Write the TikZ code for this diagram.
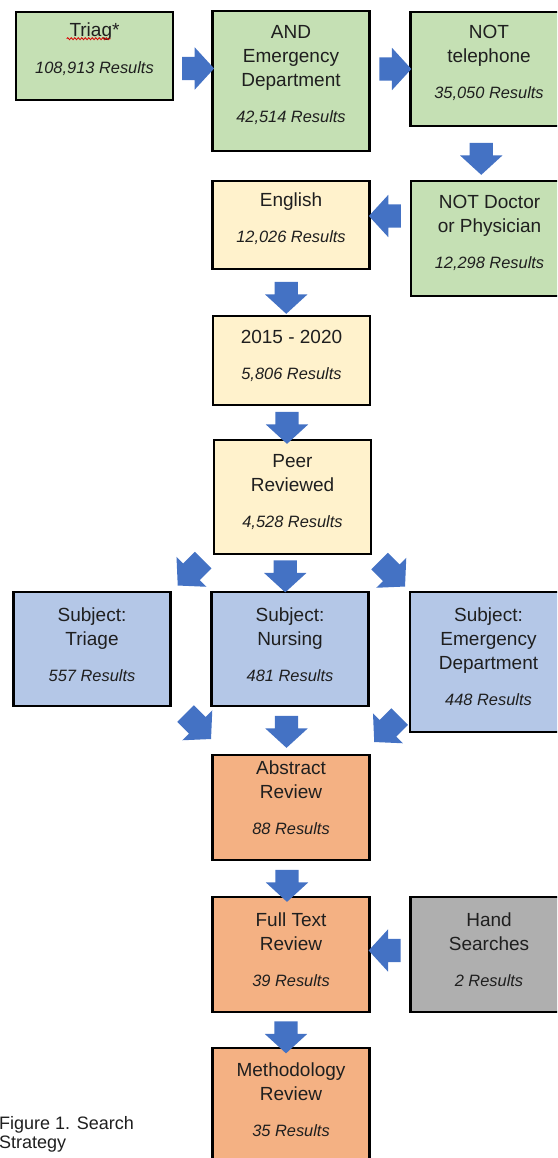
\documentclass[tikz,border=0pt]{standalone}
\usepackage{fontspec}
\setmainfont{Liberation Sans}
\newfontfamily\capfont{Liberation Sans}
\usetikzlibrary{shapes.arrows,calc,decorations.pathmorphing}

\definecolor{boxgreen}{HTML}{C5E0B4}
\definecolor{boxyellow}{HTML}{FFF2CC}
\definecolor{boxblue}{HTML}{B4C7E7}
\definecolor{boxorange}{HTML}{F4B183}
\definecolor{boxgrey}{HTML}{AFAFAF}
\definecolor{arrowblue}{HTML}{4472C4}

% result count line under each box title
\newcommand{\res}[1]{{\fontsize{16.4}{20}\selectfont\itshape #1 Results}}

\begin{document}
\begin{tikzpicture}[x=1pt, y=-1pt,
        box/.style={draw=black, line width=2.6pt, minimum width=157pt, inner sep=0pt},
        txt/.style={align=center, inner sep=0pt, text=black!88, font=\fontsize{19}{24}\selectfont},
        barrow/.style={single arrow, fill=arrowblue, minimum height=32pt, inner xsep=0pt, inner ysep=11.5pt,
            single arrow head extend=9.5pt, single arrow tip angle=95},
        darrow/.style={barrow, minimum height=36pt}
    ]
    \clip (0,0) rectangle (557,1158);

    % Database search
    \node[box, fill=boxgreen, minimum height=88pt] (triag) at (94.5,56) {};
    \node[txt] (triag-t) at ([yshift=7pt]triag.center) {Triag*\\[13pt]\res{108,913}};
    \draw[red!85!black, line width=.8pt, decorate, decoration={snake, amplitude=1pt, segment length=3.5pt}]
        ([shift={(52,28)}]triag.north west) -- ([shift={(96,28)}]triag.north west);

    \node[box, fill=boxgreen, minimum height=140pt] (and) at (291,81) {};
    \node[txt] (and-t) at ([yshift=6pt]and.center) {AND\\Emergency\\Department\\[12pt]\res{42,514}};

    \node[box, fill=boxgreen, minimum height=114pt] (tel) at (489,69) {};
    \node[txt] (tel-t) at ([yshift=6pt]tel.center) {NOT\\telephone\\[12pt]\res{35,050}};

    \node[box, fill=boxgreen, minimum height=115pt] (doc) at (489.5,238.5) {};
    \node[txt] (doc-t) at ([yshift=6pt]doc.center) {NOT Doctor\\or Physician\\[12pt]\res{12,298}};

    % Limiters
    \node[box, fill=boxyellow, minimum height=88pt] (eng) at (291,225) {};
    \node[txt] (eng-t) at ([yshift=6pt]eng.center) {English\\[12pt]\res{12,026}};

    \node[box, fill=boxyellow, minimum height=89pt] (yr) at (291.5,360.5) {};
    \node[txt] (yr-t) at ([yshift=5pt]yr.center) {2015 - 2020\\[12pt]\res{5,806}};

    \node[box, fill=boxyellow, minimum height=114pt] (peer) at (292.5,497) {};
    \node[txt] (peer-t) at ([yshift=5pt]peer.center) {Peer\\Reviewed\\[12pt]\res{4,528}};

    % Subject headings
    \node[box, fill=boxblue, minimum height=114pt] (stri) at (92,649) {};
    \node[txt] (stri-t) at ([yshift=4pt]stri.center) {Subject:\\Triage\\[12pt]\res{557}};

    \node[box, fill=boxblue, minimum height=114pt] (snur) at (290,649) {};
    \node[txt] (snur-t) at ([yshift=4pt]snur.center) {Subject:\\Nursing\\[12pt]\res{481}};

    \node[box, fill=boxblue, minimum height=140pt] (sed) at (488.5,662) {};
    \node[txt] (sed-t) at ([yshift=5pt]sed.center) {Subject:\\Emergency\\Department\\[12pt]\res{448}};

    % Screening
    \node[box, fill=boxorange, minimum height=105pt] (abs) at (291,807.5) {};
    \node[txt] (abs-t) at ([yshift=9.5pt]abs.center) {Abstract\\Review\\[12pt]\res{88}};

    \node[box, fill=boxorange, minimum height=115pt] (full) at (291,954.5) {};
    \node[txt] (full-t) at ([yshift=5pt]full.center) {Full Text\\Review\\[12pt]\res{39}};

    \node[box, fill=boxgrey, minimum height=115pt] (hand) at (489,954.5) {};
    \node[txt] (hand-t) at ([yshift=5pt]hand.center) {Hand\\Searches\\[12pt]\res{2}};

    \node[box, fill=boxorange, minimum height=115pt] (meth) at (291,1105.5) {};
    \node[txt] (meth-t) at ([yshift=6pt]meth.center) {Methodology\\Review\\[12pt]\res{35}};

    % Block arrows
    \node[barrow] (a1) at ($(triag.east)!.5!(and.west)$) {};
    \node[barrow] (a2) at ($(and.east |- tel.west)!.5!(tel.west)$) {};
    \node[barrow, rotate=-90] (a3) at ($(tel.south)!.5!(doc.north)+(-8,0)$) {};
    \node[barrow, rotate=180] (a4) at ($(eng.east)!.5!(doc.west |- eng.east)+(0,-9)$) {};
    \node[barrow, rotate=-90] (a5) at ($(eng.south)!.5!(yr.north)+(-5,0)$) {};
    \node[barrow, rotate=-90] (a6) at ($(yr.south)!.5!(peer.north)+(-5,0)$) {};
    \node[darrow, rotate=-135] (a7) at ($(peer.south west)!.5!(stri.north east)+(2,-4)$) {};
    \node[barrow, rotate=-90] (a8) at ($(peer.south)!.5!(snur.north)+(-6,-2)$) {};
    \node[darrow, rotate=-45] (a9) at ($(peer.south east)!.5!(sed.north west)+(-2,-3)$) {};
    \node[darrow, rotate=-45] (a10) at ($(stri.south east)!.5!(abs.north west)+(3,-8)$) {};
    \node[barrow, rotate=-90] (a11) at ($(snur.south)!.5!(abs.north)+(-4,-4)$) {};
    \node[darrow, rotate=-135] (a12) at ($(sed.south west)!.5!(abs.north east)+(1,-18)$) {};
    \node[barrow, rotate=-90] (a13) at ($(abs.south)!.5!(full.north)+(-4,2)$) {};
    \node[barrow, rotate=180] (a14) at ($(full.east)!.5!(hand.west)+(0,-4)$) {};
    \node[barrow, rotate=-90] (a15) at ($(full.south)!.5!(meth.north)+(-5,2)$) {};

    % Caption
    \node[anchor=north west, align=left, inner sep=0pt, text=black!88,
        font=\capfont\fontsize{18}{19}\selectfont] (cap) at (-1,1116) {Figure 1. Search\\Strategy};

\end{tikzpicture}
\end{document}
